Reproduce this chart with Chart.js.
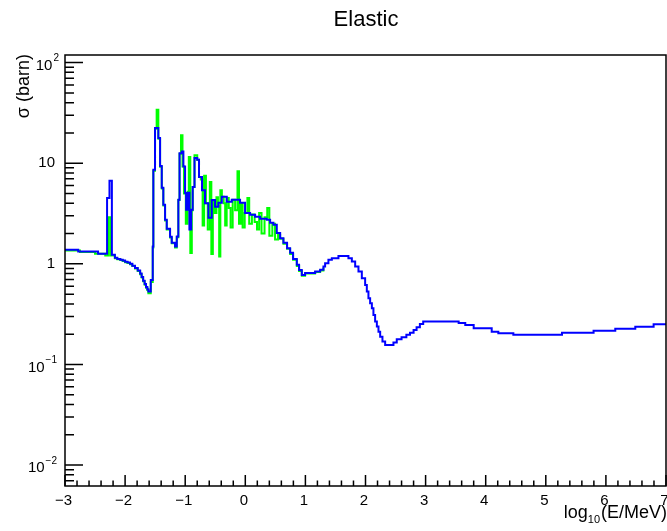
<!DOCTYPE html>
<html>
<head>
<meta charset="utf-8">
<script src="https://cdn.jsdelivr.net/npm/chart.js@4/dist/chart.umd.min.js"></script>
<style>
  html, body { margin: 0; padding: 0; background: #fff; }
  canvas { display: block; }
</style>
</head>
<body>
<canvas id="c" width="667" height="531"></canvas>
<script>
// ---- data (x = log10(E/MeV), y = sigma in barn) ----
const blueX = [
  -3.00,-2.78,-2.45,-2.30,-2.26,-2.22,-2.17,-2.13,-2.08,-2.04,
  -2.00,-1.96,-1.918,-1.88,-1.835,-1.79,-1.75,-1.725,-1.70,-1.675,
  -1.652,-1.63,-1.613,-1.573,-1.54,-1.53,-1.502,-1.447,-1.418,-1.39,
  -1.364,-1.335,-1.307,-1.252,-1.224,-1.169,-1.14,-1.114,-1.094,-1.057,
  -1.03,-1.002,-0.985,-0.955,-0.93,-0.90,-0.875,-0.845,-0.80,-0.77,
  -0.72,-0.67,-0.614,-0.558,-0.503,-0.448,-0.391,-0.308,-0.225,-0.142,
  -0.087,-0.004,0.08,0.163,0.246,0.358,0.413,0.468,0.524,0.58,
  0.634,0.695,0.746,0.795,0.857,0.895,0.94,0.995,1.162,1.245,
  1.30,1.328,1.383,1.44,1.55,1.716,1.773,1.828,1.883,1.939,
  1.994,2.022,2.049,2.077,2.106,2.132,2.16,2.189,2.216,2.244,
  2.282,2.327,2.465,2.52,2.60,2.68,2.74,2.80,2.85,2.905,
  2.96,3.55,3.66,3.80,4.10,4.21,4.46,5.27,5.795,6.156,
  6.489,6.794,7.0];
const blueY = [
  1.38,1.33,1.26,4.5,6.7,1.23,1.15,1.12,1.10,1.08,
  1.05,1.03,1.00,0.96,0.91,0.86,0.80,0.74,0.68,0.63,
  0.59,0.56,0.53,0.69,1.49,8.6,22.4,17.8,9.4,5.7,
  3.86,2.74,2.23,1.86,1.62,1.49,1.87,4.33,12.6,13.1,
  9.3,5.05,3.45,5.1,2.2,3.45,5.8,11.3,10.8,7.3,
  5.4,4.0,2.87,4.3,3.7,4.05,4.65,4.14,4.33,4.33,
  4.05,3.2,3.07,2.94,2.8,2.74,2.56,2.44,2.03,1.8,
  1.62,1.43,1.29,1.12,0.977,0.87,0.777,0.81,0.838,0.872,
  0.94,1.016,1.096,1.14,1.20,1.14,1.054,0.94,0.838,0.721,
  0.618,0.53,0.456,0.406,0.362,0.311,0.267,0.238,0.212,0.189,
  0.169,0.156,0.165,0.178,0.187,0.197,0.207,0.22,0.234,0.253,
  0.268,0.259,0.247,0.229,0.212,0.204,0.197,0.207,0.216,0.226,
  0.237,0.251,0.251];

const greenX = [
  -3.00,-2.75,-2.50,-2.33,-2.28,-2.245,-2.17,-2.13,-2.08,-2.04,
  -2.00,-1.96,-1.918,-1.88,-1.835,-1.79,-1.75,-1.725,-1.70,-1.675,
  -1.652,-1.63,-1.613,-1.573,-1.54,-1.53,-1.502,-1.475,-1.447,-1.418,
  -1.39,-1.364,-1.335,-1.307,-1.252,-1.224,-1.169,-1.14,-1.114,-1.094,
  -1.07,-1.045,-1.02,-0.99,-0.96,-0.94,-0.915,-0.89,-0.875,-0.845,
  -0.80,-0.77,-0.74,-0.71,-0.685,-0.655,-0.625,-0.59,-0.565,-0.54,
  -0.51,-0.48,-0.455,-0.435,-0.415,-0.39,-0.36,-0.335,-0.31,-0.275,
  -0.245,-0.21,-0.17,-0.13,-0.105,-0.075,-0.045,-0.01,0.035,0.065,
  0.11,0.155,0.195,0.23,0.27,0.32,0.365,0.40,0.45,0.495,
  0.545,0.58,0.634,0.695,0.746,0.795,0.857,0.895,0.94,0.995,
  1.162,1.245,1.30];
const greenY = [
  1.36,1.31,1.26,1.21,2.9,1.21,1.14,1.11,1.09,1.07,
  1.04,1.02,0.99,0.95,0.90,0.85,0.79,0.73,0.67,0.62,
  0.58,0.55,0.51,0.66,1.45,8.4,22,34,17.5,9.2,
  5.6,3.8,2.7,2.2,1.83,1.6,1.45,1.84,4.3,12.4,
  19,9.3,5.0,2.5,5.2,11.5,1.28,3.4,5.8,12.0,
  10.8,7.3,6.9,2.4,7.5,4.0,2.2,6.5,1.25,4.3,
  3.2,4.6,3.8,1.18,5.4,4.65,4.0,2.4,4.5,3.6,
  2.3,4.33,3.4,8.3,2.5,4.0,2.3,3.2,4.5,2.5,
  3.1,2.6,2.2,3.2,2.0,2.9,3.6,1.9,2.5,1.75,
  1.95,1.78,1.58,1.41,1.25,1.10,0.95,0.85,0.76,0.80,
  0.83,0.86,0.92];

const xTickValues = [-3,-2,-1,0,1,2,3,4,5,6,7];
const xTickLabels = ["\u22123","\u22122","\u22121","0","1","2","3","4","5","6","7"];
const yTickValues = [0.01,0.1,1,10,100];
const yTickLabels = [["10","\u22122"],["10","\u22121"],["1",""],["10",""],["10","2"]];

const titleText = "Elastic";
const yTitle = "\u03c3 (barn)";
const xTitleParts = ["log", "10", "(E/MeV)"];

const FONT = '"Liberation Sans", Arial, Helvetica, sans-serif';

const rootAxes = {
  id: 'rootAxes',
  afterDatasetsDraw(chart) {
    const { ctx, chartArea: a, scales } = chart;
    const xs = scales.x, ys = scales.y;
    ctx.save();
    ctx.strokeStyle = '#000';
    ctx.fillStyle = '#000';
    // frame
    ctx.lineWidth = 1.5;
    ctx.strokeRect(a.left, a.top, a.right - a.left, a.bottom - a.top);

    // x ticks (major at integers, minor every 0.2)
    ctx.lineWidth = 1.5;
    ctx.beginPath();
    for (let i = 0; i < xTickValues.length; i++) {
      const v = xTickValues[i];
      const px = xs.getPixelForValue(v);
      ctx.moveTo(px, a.bottom); ctx.lineTo(px, a.bottom - 11);
      if (i < xTickValues.length - 1) {
        for (let k = 1; k < 5; k++) {
          const mx = xs.getPixelForValue(v + k * 0.2);
          ctx.moveTo(mx, a.bottom); ctx.lineTo(mx, a.bottom - 5.5);
        }
      }
    }
    // y ticks (major decades, minor 2..9)
    for (let e = -3; e <= 2; e++) {
      for (let k = 1; k <= 9; k++) {
        const v = k * Math.pow(10, e);
        if (v < ys.min || v > ys.max) continue;
        const py = ys.getPixelForValue(v);
        const len = (k === 1) ? 18 : 9;
        ctx.moveTo(a.left, py); ctx.lineTo(a.left + len, py);
      }
    }
    ctx.stroke();

    // x tick labels
    ctx.font = '15px ' + FONT;
    ctx.textAlign = 'center';
    ctx.textBaseline = 'alphabetic';
    for (let i = 0; i < xTickValues.length; i++) {
      const px = xs.getPixelForValue(xTickValues[i]);
      ctx.fillText(xTickLabels[i], px - 1.5, 505);
    }

    // y tick labels
    const rightEdge = 57;
    for (let i = 0; i < yTickValues.length; i++) {
      const py = ys.getPixelForValue(yTickValues[i]);
      const [base, sup] = yTickLabels[i];
      ctx.textBaseline = 'middle';
      if (!sup) {
        ctx.font = '15px ' + FONT;
        ctx.textAlign = 'right';
        ctx.fillText(base, rightEdge - 2, py);
      } else {
        ctx.font = '10px ' + FONT;
        const sw = ctx.measureText(sup).width;
        ctx.textAlign = 'right';
        ctx.fillText(sup, rightEdge + (sup === '2' ? 2 : 0), py - 4);
        ctx.font = '15px ' + FONT;
        ctx.fillText(base, rightEdge + (sup === '2' ? 2 : 0) - sw - 1, py + 3);
      }
    }

    // title
    ctx.font = '22px ' + FONT;
    ctx.textAlign = 'center';
    ctx.textBaseline = 'alphabetic';
    ctx.fillText(titleText, 366, 26);

    // x axis title, right aligned at the axis end, with subscript
    const bigF = '18px ' + FONT, smallF = '11px ' + FONT;
    ctx.font = bigF; const w3 = ctx.measureText(xTitleParts[2]).width; const w1 = ctx.measureText(xTitleParts[0]).width;
    ctx.font = smallF; const w2 = ctx.measureText(xTitleParts[1]).width;
    const xEnd = 667;
    ctx.textAlign = 'left';
    ctx.font = bigF;
    ctx.fillText(xTitleParts[2], xEnd - w3, 518);
    ctx.font = smallF;
    ctx.fillText(xTitleParts[1], xEnd - w3 - w2 - 1, 523);
    ctx.font = bigF;
    ctx.fillText(xTitleParts[0], xEnd - w3 - w2 - 1 - w1, 518);

    // y axis title rotated, aligned to the top end
    ctx.save();
    ctx.translate(29, 54);
    ctx.rotate(-Math.PI / 2);
    ctx.font = '18px ' + FONT;
    ctx.textAlign = 'right';
    ctx.textBaseline = 'alphabetic';
    ctx.fillText(yTitle, 0, 0);
    ctx.restore();

    ctx.restore();
  }
};

const toPts = (xs, ys) => xs.map((x, i) => ({ x: x, y: ys[i] }));

new Chart(document.getElementById('c').getContext('2d'), {
  type: 'line',
  data: {
    datasets: [
      { label: 'Elastic (blue)', data: toPts(blueX, blueY), borderColor: '#0000ff', borderWidth: 2,
        pointRadius: 0, stepped: true, fill: false },
      { label: 'Elastic (green)', data: toPts(greenX, greenY), borderColor: '#00ff00', borderWidth: 2,
        pointRadius: 0, stepped: true, fill: false }
    ]
  },
  options: {
    responsive: false,
    animation: false,
    layout: { padding: { left: 65, top: 55, right: 1, bottom: 45 } },
    plugins: { legend: { display: false }, title: { display: false }, tooltip: { enabled: false } },
    scales: {
      x: { type: 'linear', min: -3, max: 7, display: false },
      y: { type: 'logarithmic', min: 0.0062, max: 119, display: false }
    }
  },
  plugins: [rootAxes]
});
</script>
</body>
</html>
